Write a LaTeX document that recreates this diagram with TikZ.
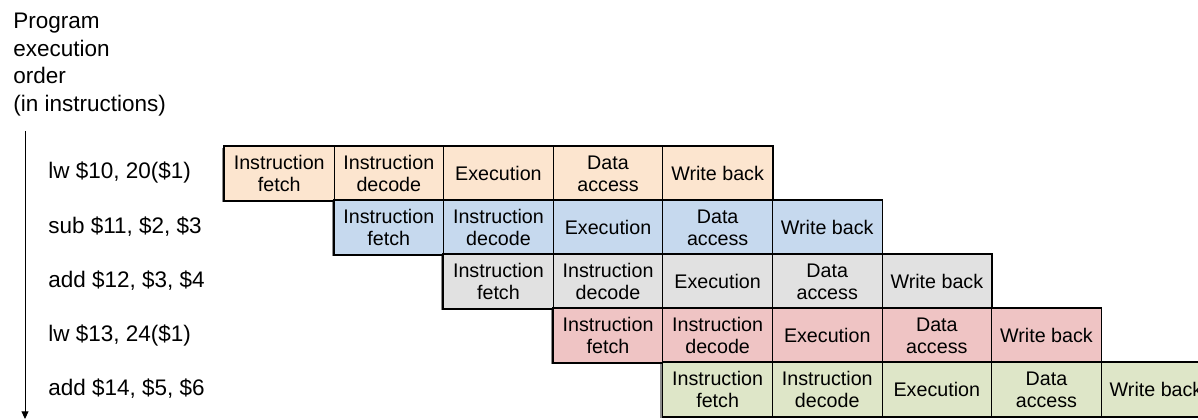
\documentclass[tikz,border=0pt]{standalone}
\usepackage{fontspec}
\setmainfont{Liberation Sans}
\usetikzlibrary{positioning, arrows.meta}
\definecolor{rowbeige}{RGB}{252, 229, 207}
\definecolor{rowblue}{RGB}{198, 217, 238}
\definecolor{rowgray}{RGB}{225, 225, 225}
\definecolor{rowpink}{RGB}{239, 196, 196}
\definecolor{rowgreen}{RGB}{222, 230, 200}

\tikzset{
  stagebox/.style={draw=black, line width=0.6pt, minimum width=2.74cm, minimum height=1.35cm,
    inner sep=0pt, align=center, anchor=north west, font=\fontsize{14}{15.5}\selectfont},
  rowframe/.style={draw=black, line width=1.1pt},
  rowshadow/.style={fill=black!45},
  instr/.style={anchor=west, inner sep=0pt, font=\fontsize{16}{19}\selectfont}
}

\begin{document}
\begin{tikzpicture}[x=0.025cm, y=-0.025cm]
  \useasboundingbox (0,0) rectangle (1198,420);
  \clip (0,0) rectangle (1198,420);

  % Axis title and arrow
  \node[anchor=north west, inner sep=0pt, align=left, font=\fontsize{16}{19.5}\selectfont]
    (title) at (13,13) {Program\\execution\\order\\(in instructions)};
  \coordinate (axtop) at (25,131);
  \coordinate (axbot) at (25,419);
  \draw[line width=0.7pt, -{Triangle[length=5.5pt, width=5pt]}] (axtop) -- (axbot);

  % One row per instruction, each shifted by one stage
  \foreach \r/\col/\ins in {0/rowbeige/{lw \$10, 20(\$1)},
                            1/rowblue/{sub \$11, \$2, \$3},
                            2/rowgray/{add \$12, \$3, \$4},
                            3/rowpink/{lw \$13, 24(\$1)},
                            4/rowgreen/{add \$14, \$5, \$6}} {
    \fill[rowshadow] ({222+109.6*\r}, {148+54*\r}) rectangle ({770+109.6*\r}, {202+54*\r});
    \foreach \c/\txt in {0/{Instruction\\fetch}, 1/{Instruction\\decode}, 2/Execution,
                         3/{Data\\access}, 4/{Write back}} {
      \node[stagebox, fill=\col] (s\r\c) at ({224+109.6*(\r+\c)}, {146+54*\r}) {\txt};
    }
    \draw[rowframe] (s\r0.north west) rectangle (s\r4.south east);
    \node[instr] (i\r) at (48, {173+54*\r}) {\ins};
  }
\end{tikzpicture}
\end{document}
